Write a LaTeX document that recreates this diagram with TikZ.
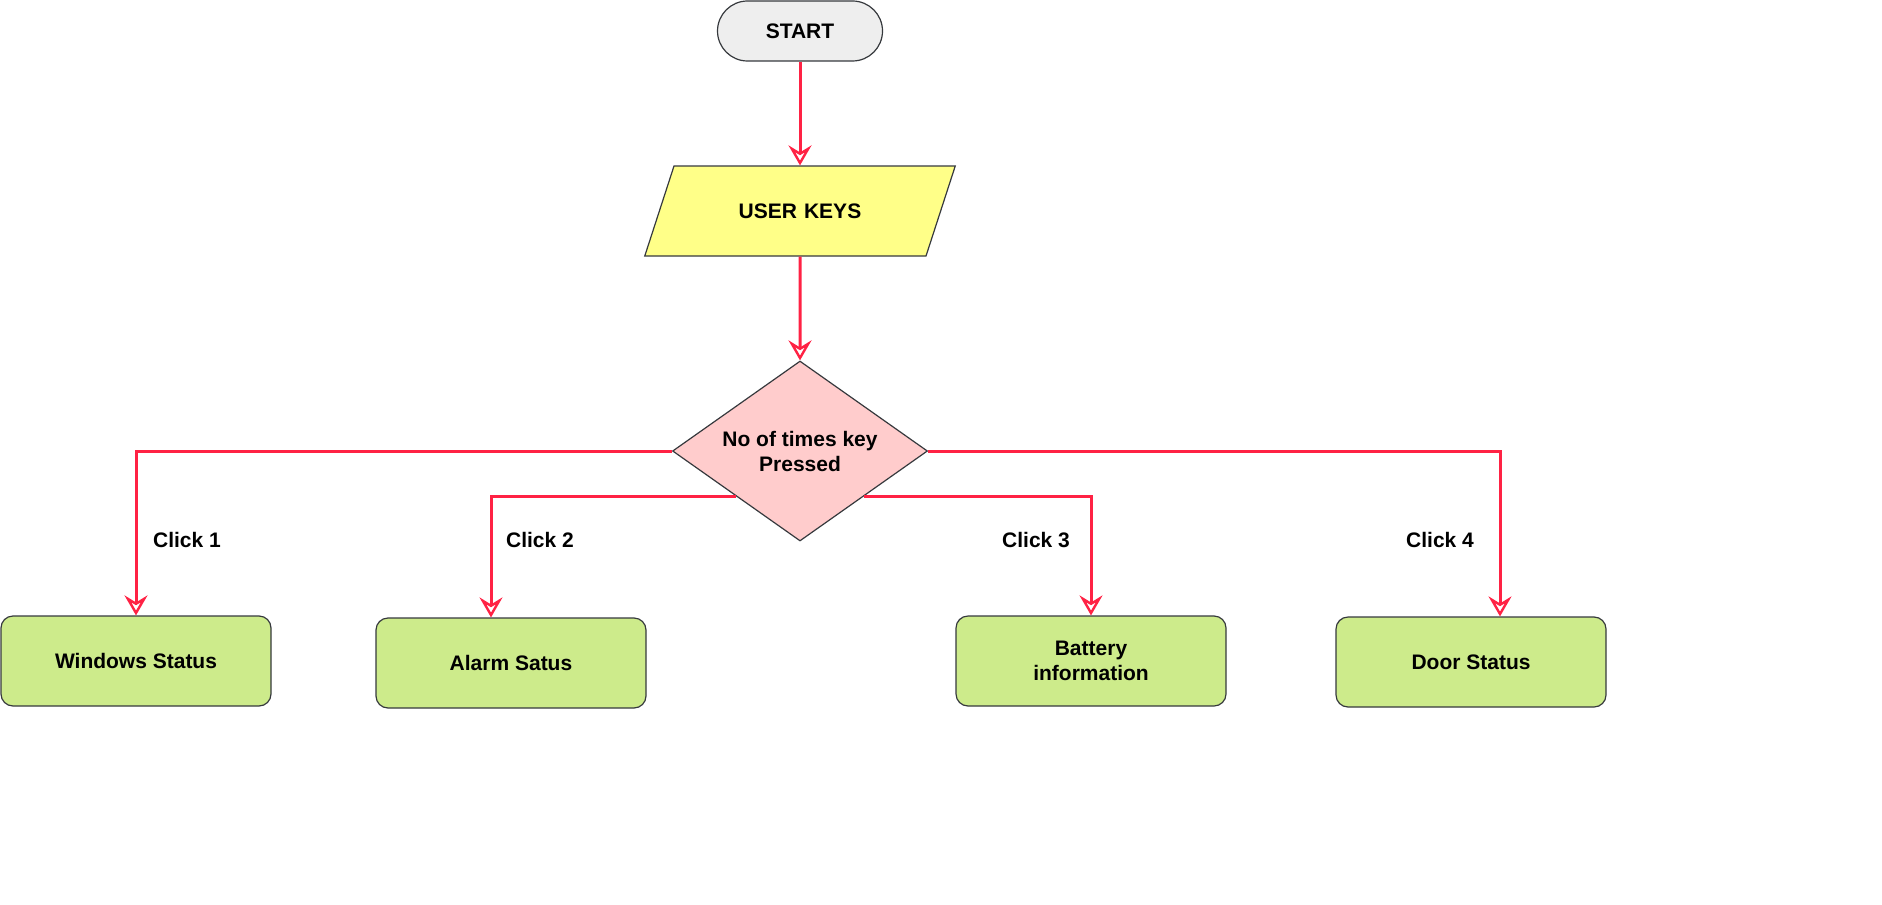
\documentclass[tikz,border=0pt]{standalone}
\usepackage{fontspec}
\setmainfont{Liberation Sans}
\usepackage{xcolor}
\usetikzlibrary{arrows.meta, shapes.geometric}
\definecolor{flowred}{HTML}{FF2244}
\definecolor{edgegray}{HTML}{36393D}
\definecolor{startgray}{HTML}{EEEEEE}
\definecolor{keyyellow}{HTML}{FFFF88}
\definecolor{condpink}{HTML}{FFCCCC}
\definecolor{boxgreen}{HTML}{CDEB8B}

\begin{document}
\begin{tikzpicture}[x=0.5pt, y=-0.5pt,
        every node/.style={font=\fontsize{10.5}{12.5}\selectfont\bfseries, align=center},
        boxline/.style={draw=edgegray, line width=0.6pt, inner sep=0pt},
        startbox/.style={boxline, fill=startgray, rounded corners=15pt, minimum width=82.5pt, minimum height=30pt},
        inputbox/.style={boxline, fill=keyyellow, trapezium, trapezium left angle=72, trapezium right angle=108, text width=70pt, text height=7.5pt, text depth=0pt, inner xsep=28pt, inner ysep=18.75pt},
        condbox/.style={boxline, fill=condpink, diamond, aspect=1.42, minimum width=127.5pt, minimum height=90pt},
        statebox/.style={boxline, fill=boxgreen, rounded corners=6pt, minimum width=135pt, minimum height=45pt},
        flow/.style={-{Stealth[open, length=10pt, width=11.5pt, inset=3.5pt, line width=1.2pt]}, draw=flowred, line width=1.5pt}]
            \useasboundingbox (0, 0) rectangle (1882, 904);

            \node[startbox] at (800, 31)   (start) {START};
            \node[inputbox] at (800, 211)  (keys) {USER KEYS};
            \node[condbox]  at (800, 451)  (cond) {No of times key\\Pressed};
            \node[statebox] at (136, 661)  (win) {Windows Status};
            \node[statebox] at (511, 663)  (alarm) {Alarm Satus};
            \node[statebox] at (1091, 661) (bat) {Battery\\information};
            \node[statebox] at (1471, 662) (door) {Door Status};

            \node at (187, 540)  (click1) {Click 1};
            \node at (540, 540)  (click2) {Click 2};
            \node at (1036, 540) (click3) {Click 3};
            \node at (1440, 540) (click4) {Click 4};

            \draw[flow] (start) -- (keys);
            \draw[flow] (keys) -- (cond);
            \draw[flow] (cond.west) -| (win.north);
            \draw[flow] (cond.south west) -| ([xshift=-10pt]alarm.north);
            \draw[flow] (cond.south east) -| (bat.north);
            \draw[flow] (cond.east) -| ([xshift=14.5pt]door.north);
        \end{tikzpicture}
\end{document}
